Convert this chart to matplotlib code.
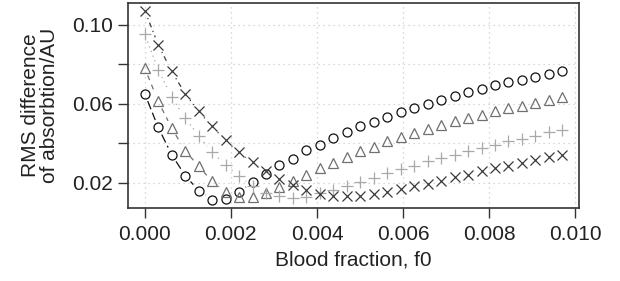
import numpy as np
import matplotlib
matplotlib.use("Agg")
import matplotlib.pyplot as plt

plt.rcParams['font.family'] = ['Liberation Sans', 'DejaVu Sans']

# blood fraction sampled on the x axis
f0 = [0.0, 0.000313, 0.000626, 0.000939, 0.001252, 0.001565, 0.001877, 0.002190,
      0.002503, 0.002816, 0.003129, 0.003442, 0.003755, 0.004068, 0.004381, 0.004694,
      0.005006, 0.005319, 0.005632, 0.005945, 0.006258, 0.006571, 0.006884, 0.007197,
      0.007510, 0.007823, 0.008135, 0.008448, 0.008761, 0.009074, 0.009387, 0.009700]

# RMS difference of absorption for the four fitted cases
rms_circle = [0.0651, 0.0480, 0.0342, 0.0236, 0.0160, 0.0114, 0.0118, 0.0153,
              0.0202, 0.0244, 0.0288, 0.0322, 0.0364, 0.0393, 0.0425, 0.0455,
              0.0485, 0.0509, 0.0533, 0.0558, 0.0578, 0.0600, 0.0620, 0.0641,
              0.0657, 0.0674, 0.0695, 0.0708, 0.0722, 0.0738, 0.0752, 0.0764]
rms_triangle = [0.0781, 0.0612, 0.0477, 0.0362, 0.0283, 0.0207, 0.0155, 0.0126,
                0.0126, 0.0148, 0.0178, 0.0210, 0.0241, 0.0275, 0.0300, 0.0330,
                0.0359, 0.0381, 0.0409, 0.0430, 0.0452, 0.0472, 0.0492, 0.0511,
                0.0528, 0.0544, 0.0561, 0.0576, 0.0590, 0.0605, 0.0620, 0.0632]
rms_plus = [0.0953, 0.0772, 0.0634, 0.0528, 0.0438, 0.0354, 0.0291, 0.0232,
            0.0182, 0.0148, 0.0131, 0.0120, 0.0126, 0.0148, 0.0165, 0.0185,
            0.0202, 0.0224, 0.0247, 0.0270, 0.0286, 0.0308, 0.0325, 0.0342,
            0.0362, 0.0376, 0.0393, 0.0413, 0.0423, 0.0438, 0.0455, 0.0465]
rms_cross = [0.1072, 0.0899, 0.0764, 0.0651, 0.0561, 0.0485, 0.0414, 0.0354,
             0.0303, 0.0258, 0.0219, 0.0190, 0.0165, 0.0143, 0.0131, 0.0131,
             0.0134, 0.0143, 0.0151, 0.0168, 0.0182, 0.0195, 0.0210, 0.0229,
             0.0241, 0.0258, 0.0275, 0.0286, 0.0300, 0.0317, 0.0328, 0.0342]

x_ticks = [0.000, 0.002, 0.004, 0.006, 0.008, 0.010]
y_ticks = [0.02, 0.04, 0.06, 0.08, 0.10]
y_labels = ['0.02', '', '0.06', '', '0.10']


def gapped_line(ax, x, y, gap, **kw):
    """R type='b' style: lines between points, cut short around each point."""
    pts = ax.transData.transform(np.column_stack([x, y]))
    inv = ax.transData.inverted()
    for p0, p1 in zip(pts[:-1], pts[1:]):
        d = p1 - p0
        L = np.hypot(*d)
        if L <= 2 * gap:
            continue
        u = d / L
        a = inv.transform(p0 + u * gap)
        b = inv.transform(p1 - u * gap)
        ax.plot([a[0], b[0]], [a[1], b[1]], **kw)


fig = plt.figure(figsize=(6.2, 2.81), dpi=100)
ax = fig.add_axes([0.2065, 0.260, 0.7275, 0.729])

ax.set_xlim(-0.000388, 0.010088)
ax.set_ylim(0.0072, 0.1110)

ax.set_xticks(x_ticks)
ax.set_xticklabels(['%.3f' % t for t in x_ticks])
ax.set_yticks(y_ticks)
ax.set_yticklabels(y_labels)
ax.tick_params(labelsize=15, length=7, width=1.0, color='#333333',
               labelcolor='#222222')
ax.tick_params(axis='x', pad=5)
ax.tick_params(axis='y', pad=4)
for s in ax.spines.values():
    s.set_linewidth(1.2)
    s.set_color('#333333')

ax.grid(True, color='#cccccc', linestyle=(0, (1, 3)), linewidth=0.9)
ax.set_axisbelow(True)

series = [
    (rms_circle, 'o', '#111111', (0, (7, 3))),
    (rms_triangle, '^', '#707070', (0, (4, 4))),
    (rms_plus, '+', '#a8a8a8', (0, (1, 3))),
    (rms_cross, 'x', '#3a3a3a', (0, (1, 3, 4, 3))),
]

gap = 8  # pixels
for y, m, c, ls in series:
    ms = {'o': 6.5, '^': 7.2, '+': 8, 'x': 6.5}[m]
    ax.plot(f0, y, linestyle='none', marker=m, markersize=ms,
            markerfacecolor='none', markeredgecolor=c, markeredgewidth=0.9)
    gapped_line(ax, f0, y, gap, color=c, linestyle=ls, linewidth=0.9)

ax.set_xlabel('Blood fraction, f0', fontsize=15, color='#222222', labelpad=5)
ax.set_ylabel('RMS difference\nof absorbtion/AU', fontsize=15, color='#222222',
              labelpad=9, linespacing=1.0)

fig.savefig('out.png', dpi=100)
